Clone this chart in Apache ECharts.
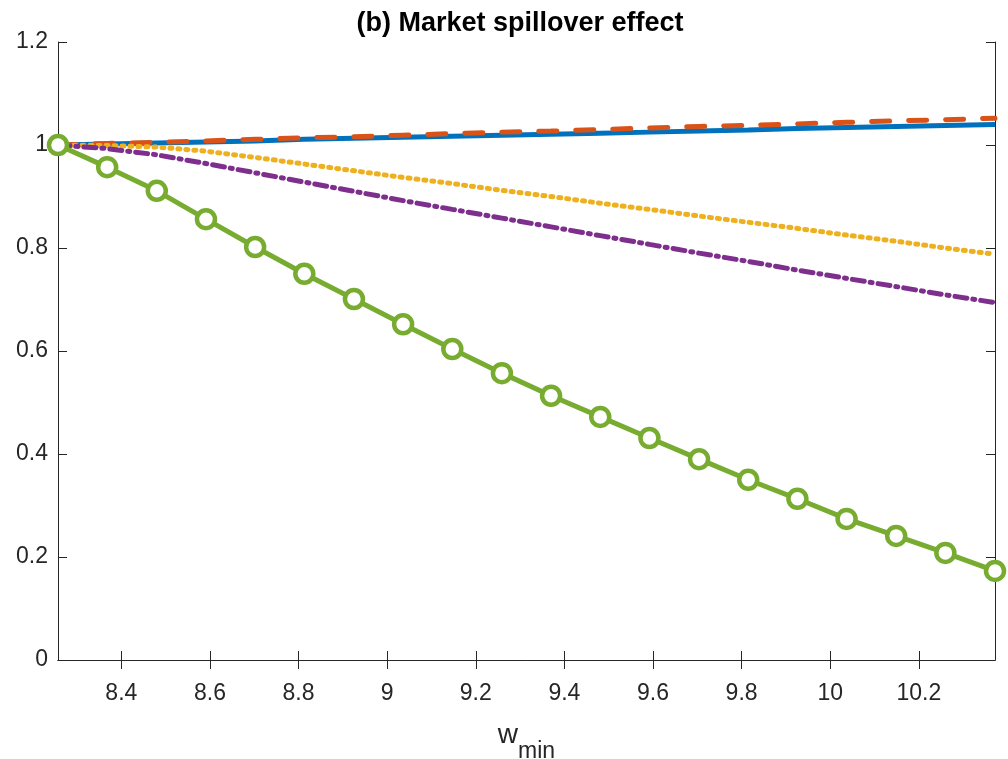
<!DOCTYPE html>
<html>
<head>
<meta charset="utf-8">
<script src="https://cdn.jsdelivr.net/npm/echarts@6/dist/echarts.min.js"></script>
<style>
  html, body { margin: 0; padding: 0; background: #fff; }
  #chart { width: 1008px; height: 759px; }
</style>
</head>
<body>
<div id="chart"></div>
<script>
  // w_min values (20 points)
  const xValues = [8.257, 8.368, 8.480, 8.591, 8.702, 8.813, 8.925, 9.036, 9.147, 9.259,
                   9.370, 9.481, 9.592, 9.704, 9.815, 9.926, 10.037, 10.149, 10.260, 10.372];
  const xTicks = [8.4, 8.6, 8.8, 9, 9.2, 9.4, 9.6, 9.8, 10, 10.2];

  const blueVals   = [1.000, 1.002, 1.004, 1.006, 1.008, 1.011, 1.013, 1.015, 1.017, 1.019,
                      1.021, 1.023, 1.025, 1.027, 1.029, 1.032, 1.034, 1.036, 1.038, 1.040];
  const orangeVals = [1.000, 1.003, 1.005, 1.008, 1.011, 1.014, 1.016, 1.019, 1.022, 1.025,
                      1.027, 1.030, 1.033, 1.036, 1.038, 1.041, 1.044, 1.047, 1.049, 1.052];
  const yellowVals = [1.000, 0.999, 0.996, 0.988, 0.976, 0.963, 0.950, 0.937, 0.925, 0.912,
                      0.900, 0.887, 0.875, 0.862, 0.850, 0.838, 0.825, 0.813, 0.800, 0.788];
  const purpleVals = [1.000, 0.993, 0.981, 0.964, 0.946, 0.928, 0.910, 0.892, 0.875, 0.858,
                      0.841, 0.824, 0.807, 0.790, 0.774, 0.757, 0.741, 0.725, 0.709, 0.694];
  const greenVals  = [1.000, 0.957, 0.911, 0.856, 0.802, 0.750, 0.701, 0.652, 0.604, 0.557,
                      0.513, 0.472, 0.431, 0.390, 0.350, 0.313, 0.274, 0.241, 0.208, 0.173];

  const xMin = 8.257, xMax = 10.372;
  const axisColor = '#262626';
  const font = 'Liberation Sans, Arial, Helvetica, sans-serif';

  function pairs(ys) {
    return xValues.map(function (x, i) { return [x, ys[i]]; });
  }

  const option = {
    animation: false,
    backgroundColor: '#fff',
    title: {
      text: '(b) Market spillover effect',
      left: 515,
      top: 5,
      textAlign: 'center',
      textStyle: { fontFamily: font, fontWeight: 'bold', fontSize: 27, color: '#000' }
    },
    grid: { left: 58, right: 13, top: 42, bottom: 99, outerBoundsMode: 'none', containLabel: false },
    xAxis: [
      {
        type: 'value',
        min: xMin,
        max: xMax,
        position: 'bottom',
        axisLine: { show: true, lineStyle: { color: axisColor, width: 1 } },
        axisTick: { show: true, inside: true, length: 9, customValues: xTicks, lineStyle: { color: axisColor } },
        axisLabel: { customValues: xTicks, fontFamily: font, fontSize: 23, color: axisColor, margin: 22 },
        splitLine: { show: false },
        name: '{w|w}{s|min}',
        nameLocation: 'middle',
        nameGap: 61,
        nameTextStyle: {
          fontFamily: font,
          color: axisColor,
          rich: {
            w: { fontFamily: font, fontSize: 28, color: axisColor, verticalAlign: 'bottom', padding: [0, 0, 14, 0] },
            s: { fontFamily: font, fontSize: 23, color: axisColor, verticalAlign: 'bottom' }
          }
        }
      },
      {
        type: 'value',
        min: xMin,
        max: xMax,
        position: 'top',
        axisLine: { show: true, lineStyle: { color: axisColor, width: 1 } },
        axisTick: { show: true, inside: true, length: 9, customValues: xTicks, lineStyle: { color: axisColor } },
        axisLabel: { show: false, customValues: xTicks },
        splitLine: { show: false }
      }
    ],
    yAxis: [
      {
        type: 'value',
        min: 0,
        max: 1.2,
        interval: 0.2,
        position: 'left',
        axisLine: { show: true, lineStyle: { color: axisColor, width: 1 } },
        axisTick: { show: true, inside: true, length: 9, lineStyle: { color: axisColor } },
        axisLabel: { fontFamily: font, fontSize: 23, color: axisColor, margin: 10 },
        splitLine: { show: false }
      },
      {
        type: 'value',
        min: 0,
        max: 1.2,
        interval: 0.2,
        position: 'right',
        axisLine: { show: true, lineStyle: { color: axisColor, width: 1 } },
        axisTick: { show: true, inside: true, length: 9, lineStyle: { color: axisColor } },
        axisLabel: { show: false },
        splitLine: { show: false }
      }
    ],
    series: [
      {
        type: 'line',
        data: pairs(blueVals),
        showSymbol: false,
        lineStyle: { color: '#0072BD', width: 5 }
      },
      {
        type: 'line',
        data: pairs(orangeVals),
        showSymbol: false,
        lineStyle: { color: '#D95319', width: 5, type: [18, 19], cap: 'round' }
      },
      {
        type: 'line',
        data: pairs(yellowVals),
        showSymbol: false,
        lineStyle: { color: '#EDB120', width: 5, type: [2, 6], cap: 'round' }
      },
      {
        type: 'line',
        data: pairs(purpleVals),
        showSymbol: false,
        lineStyle: { color: '#7E2F8E', width: 5, type: [12, 6, 2, 6], cap: 'round' }
      },
      {
        type: 'line',
        data: pairs(greenVals),
        clip: false,
        symbol: 'circle',
        symbolSize: 18,
        showAllSymbol: true,
        itemStyle: { color: '#fff', borderColor: '#77AC30', borderWidth: 4.5 },
        lineStyle: { color: '#77AC30', width: 5 }
      }
    ]
  };

  const myChart = echarts.init(document.getElementById('chart'));
  myChart.setOption(option);
</script>
</body>
</html>
